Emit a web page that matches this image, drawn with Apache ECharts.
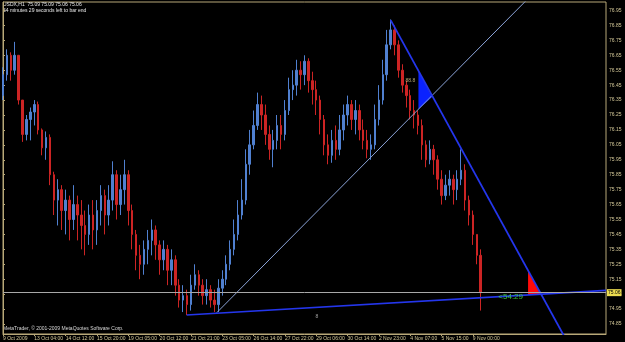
<!DOCTYPE html>
<html>
<head>
<meta charset="utf-8">
<script src="https://cdn.jsdelivr.net/npm/echarts@6/dist/echarts.min.js"></script>
<style>
html, body { margin: 0; padding: 0; background: #000; }
#chart { width: 625px; height: 342px; }
</style>
</head>
<body>
<div id="chart"></div>
<script>
// USDX H1 shown as 4-hour candles, 8 candles between time labels
const timeLabels = ['9 Oct 2009', '13 Oct 04:00', '14 Oct 12:00', '15 Oct 20:00', '19 Oct 05:00',
  '20 Oct 12:00', '21 Oct 21:00', '23 Oct 05:00', '26 Oct 14:00', '27 Oct 22:00', '29 Oct 06:00',
  '30 Oct 14:00', '2 Nov 23:00', '4 Nov 07:00', '5 Nov 15:00', '9 Nov 00:00']
const priceTicks = [74.85, 74.95, 75.05, 75.15, 75.25, 75.35, 75.45, 75.55, 75.65, 75.75, 75.85,
  75.95, 76.05, 76.15, 76.25, 76.35, 76.45, 76.55, 76.65, 76.75, 76.85, 76.95]

const opens = [76.38,76.52,76.65,76.55,76.65,76.35,76.12,76.22,76.27,76.32,
  76.15,76.03,76.10,75.85,75.68,75.75,75.61,75.68,75.55,75.65,
  75.58,75.51,75.45,75.58,75.48,75.61,75.71,75.58,75.68,75.85,
  75.65,75.75,75.85,75.61,75.45,75.31,75.25,75.35,75.41,75.48,
  75.38,75.28,75.35,75.21,75.28,75.11,75.01,75.04,74.98,75.11,
  75.18,75.11,75.04,75.08,75.01,74.98,75.09,75.15,75.25,75.35,
  75.45,75.58,75.68,75.92,76.05,76.18,76.32,76.25,76.12,76.02,
  76.08,76.18,76.12,76.28,76.42,76.45,76.55,76.52,76.61,76.48,
  76.42,76.35,76.22,76.05,75.98,76.08,76.02,76.15,76.25,76.32,
  76.22,76.28,76.15,76.08,76.02,76.05,76.22,76.35,76.52,76.72,
  76.82,76.72,76.55,76.45,76.38,76.28,76.25,76.18,76.05,75.95,
  76.02,75.95,75.82,75.71,75.78,75.82,75.75,75.82,75.88,75.68,
  75.58,75.45,75.31]
const closes = [76.52,76.65,76.55,76.65,76.35,76.12,76.22,76.27,76.32,76.15,
  76.03,76.10,75.85,75.68,75.75,75.61,75.68,75.55,75.65,75.58,
  75.51,75.45,75.58,75.48,75.61,75.71,75.58,75.68,75.85,75.65,
  75.75,75.85,75.61,75.45,75.31,75.25,75.35,75.41,75.48,75.38,
  75.28,75.35,75.21,75.28,75.11,75.01,75.04,74.98,75.11,75.18,
  75.11,75.04,75.08,75.01,74.98,75.09,75.15,75.25,75.35,75.45,
  75.58,75.68,75.92,76.05,76.18,76.32,76.25,76.12,76.02,76.08,
  76.18,76.12,76.28,76.42,76.45,76.55,76.52,76.61,76.48,76.42,
  76.35,76.22,76.05,75.98,76.08,76.02,76.15,76.25,76.32,76.22,
  76.28,76.15,76.08,76.02,76.05,76.22,76.35,76.52,76.72,76.82,
  76.72,76.55,76.45,76.38,76.28,76.25,76.18,76.05,75.95,76.02,
  75.95,75.82,75.71,75.78,75.82,75.75,75.82,75.88,75.68,75.58,
  75.45,75.31,75.06]
const highs = [76.57,76.69,76.67,76.74,76.65,76.35,76.25,76.30,76.35,76.34,
  76.16,76.14,76.12,75.87,75.82,75.78,75.75,75.71,75.78,75.71,
  75.68,75.61,75.65,75.68,75.68,75.78,75.75,75.78,75.94,75.88,
  75.85,75.95,75.88,75.65,75.48,75.38,75.41,75.48,75.55,75.51,
  75.41,75.41,75.38,75.35,75.31,75.15,75.11,75.08,75.18,75.25,
  75.21,75.15,75.15,75.11,75.08,75.15,75.21,75.31,75.41,75.55,
  75.68,75.82,76.02,76.15,76.28,76.40,76.38,76.32,76.18,76.15,
  76.25,76.25,76.35,76.50,76.55,76.62,76.61,76.65,76.63,76.54,
  76.48,76.38,76.25,76.12,76.15,76.18,76.25,76.32,76.38,76.35,
  76.35,76.32,76.22,76.15,76.12,76.32,76.45,76.62,76.82,76.89,
  76.85,76.75,76.59,76.48,76.42,76.35,76.28,76.22,76.08,76.08,
  76.05,75.98,75.88,75.85,75.88,75.85,75.88,76.02,75.92,75.71,
  75.61,75.45,75.35]
const lows = [76.35,76.48,76.48,76.52,76.32,76.07,76.08,76.08,76.18,76.12,
  75.98,75.95,75.78,75.58,75.51,75.48,75.45,75.41,75.48,75.41,
  75.35,75.31,75.38,75.35,75.38,75.51,75.45,75.51,75.61,75.55,
  75.58,75.65,75.51,75.35,75.21,75.15,75.18,75.25,75.31,75.28,
  75.18,75.21,75.11,75.11,75.04,74.96,74.93,74.91,74.94,75.08,
  75.04,74.98,74.98,74.96,74.93,74.93,75.04,75.11,75.21,75.31,
  75.41,75.55,75.65,75.85,76.02,76.15,76.15,76.05,75.95,75.90,
  76.02,76.02,76.08,76.25,76.35,76.38,76.42,76.45,76.40,76.32,
  76.25,76.12,75.98,75.92,75.93,75.95,75.98,76.08,76.18,76.15,
  76.12,76.08,76.02,75.96,75.95,76.02,76.18,76.32,76.48,76.69,
  76.65,76.50,76.40,76.30,76.22,76.16,76.12,75.95,75.90,75.92,
  75.85,75.75,75.65,75.68,75.71,75.65,75.68,75.78,75.61,75.51,
  75.38,75.25,74.94]

const bidPrice = 75.06
// trend lines: [bar position, price] anchors
const supportLine = [[46.9, 74.91], [154, 75.075]]
const thinLine = [[54.6, 74.926], [136, 77.08]]
const steepLine = [[99.0, 76.886], [146, 74.64]]
const blueTriangle = [[106.1, 76.545], [106.1, 76.288], [109.6, 76.371]]
const redTriangle = [[134.1, 75.208], [134.1, 75.045], [137.4, 75.05]]

const slotCount = 155
const frameColor = '#b8a878'
const textColor = '#d4c898'
const font = 'Liberation Sans'

const slots = []
for (let i = 0; i < slotCount; i++) slots.push(String(i))

const candles = opens.map((o, i) => {
  const c = closes[i]
  return [o, c, Math.min(lows[i], o, c), Math.max(highs[i], o, c)]
})

const chart = echarts.init(document.getElementById('chart'))

const triangleSeries = (points, color) => ({
  type: 'custom',
  xAxisIndex: 1,
  silent: true,
  data: [0],
  renderItem: (params, api) => ({
    type: 'polygon',
    shape: { points: points.map(p => api.coord(p)) },
    style: { fill: color }
  })
})

const lineSeries = (data, color, width) => ({
  type: 'line',
  xAxisIndex: 1,
  data: data,
  symbol: 'none',
  silent: true,
  clip: true,
  lineStyle: { color: color, width: width }
})

chart.setOption({
  backgroundColor: '#000',
  animation: false,
  textStyle: { fontFamily: font },
  grid: {
    left: 2, right: 19, top: 2, bottom: 8,
    show: true, borderColor: frameColor, borderWidth: 1, backgroundColor: '#000'
  },
  graphic: [
    { type: 'text', left: 3, top: 2, style: { text: 'USDX,H1  75.09 75.09 75.06 75.06', fill: '#e8e8e8', font: '5px ' + font } },
    { type: 'text', left: 3, top: 8, style: { text: '54 minutes 29 seconds left to bar end', fill: '#e8e8e8', font: '5px ' + font } },
    { type: 'text', left: 3, top: 326, style: { text: 'MetaTrader, © 2001-2009 MetaQuotes Software Corp.', fill: '#d8d8d8', font: '5px ' + font } }
  ],
  xAxis: [
    {
      type: 'category',
      data: slots,
      boundaryGap: false,
      axisLine: { lineStyle: { color: frameColor } },
      axisTick: {
        lineStyle: { color: frameColor }, length: 2,
        interval: idx => idx % 8 === 0 && idx / 8 < timeLabels.length
      },
      axisLabel: {
        interval: idx => idx % 8 === 0 && idx / 8 < timeLabels.length,
        formatter: (v, idx) => timeLabels[idx / 8] || '',
        color: textColor, fontSize: 5, align: 'left', margin: 2
      },
      splitLine: { show: false }
    },
    { type: 'value', min: 0, max: slotCount - 1, show: false }
  ],
  yAxis: {
    type: 'value',
    position: 'right',
    min: 74.783,
    max: 77.007,
    scale: true,
    axisLine: { show: true, lineStyle: { color: frameColor } },
    axisTick: { show: true, customValues: priceTicks, length: 2, lineStyle: { color: frameColor } },
    axisLabel: {
      customValues: priceTicks,
      formatter: v => v.toFixed(2),
      color: textColor, fontSize: 5, margin: 3
    },
    splitLine: { show: false }
  },
  series: [
    {
      type: 'candlestick',
      data: candles,
      barWidth: 2,
      itemStyle: {
        color: '#5080d0', color0: '#cc2424',
        borderColor: '#5080d0', borderColor0: '#cc2424', borderWidth: 1
      },
      markLine: {
        silent: true,
        symbol: 'none',
        lineStyle: { color: '#a8a8a8', width: 1, type: 'solid' },
        label: {
          show: true, position: 'end', distance: 1,
          formatter: bidPrice.toFixed(2),
          color: '#000', backgroundColor: '#ecdc50', fontSize: 5, padding: [1, 1]
        },
        data: [{ yAxis: bidPrice }]
      }
    },
    lineSeries(thinLine, '#8aa2d6', 1),
    lineSeries(supportLine, '#2436ec', 1.6),
    lineSeries(steepLine, '#2436ec', 1.8),
    triangleSeries(blueTriangle, '#0a22ff'),
    triangleSeries(redTriangle, '#ff0a0a'),
    {
      type: 'scatter',
      xAxisIndex: 1,
      symbolSize: 0,
      silent: true,
      z: 10,
      data: [
        { value: [102.8, 76.48], label: { show: true, formatter: '88.8', color: '#e0d090', fontSize: 5, position: 'right', distance: 0 } },
        { value: [126.5, 75.03], label: { show: true, formatter: '<54:29', color: '#48f048', fontSize: 8, position: 'right', distance: 0 } },
        { value: [79.8, 74.897], label: { show: true, formatter: '8', color: '#c8c8c8', fontSize: 5, position: 'right', distance: 0 } }
      ]
    }
  ]
})
</script>
</body>
</html>
